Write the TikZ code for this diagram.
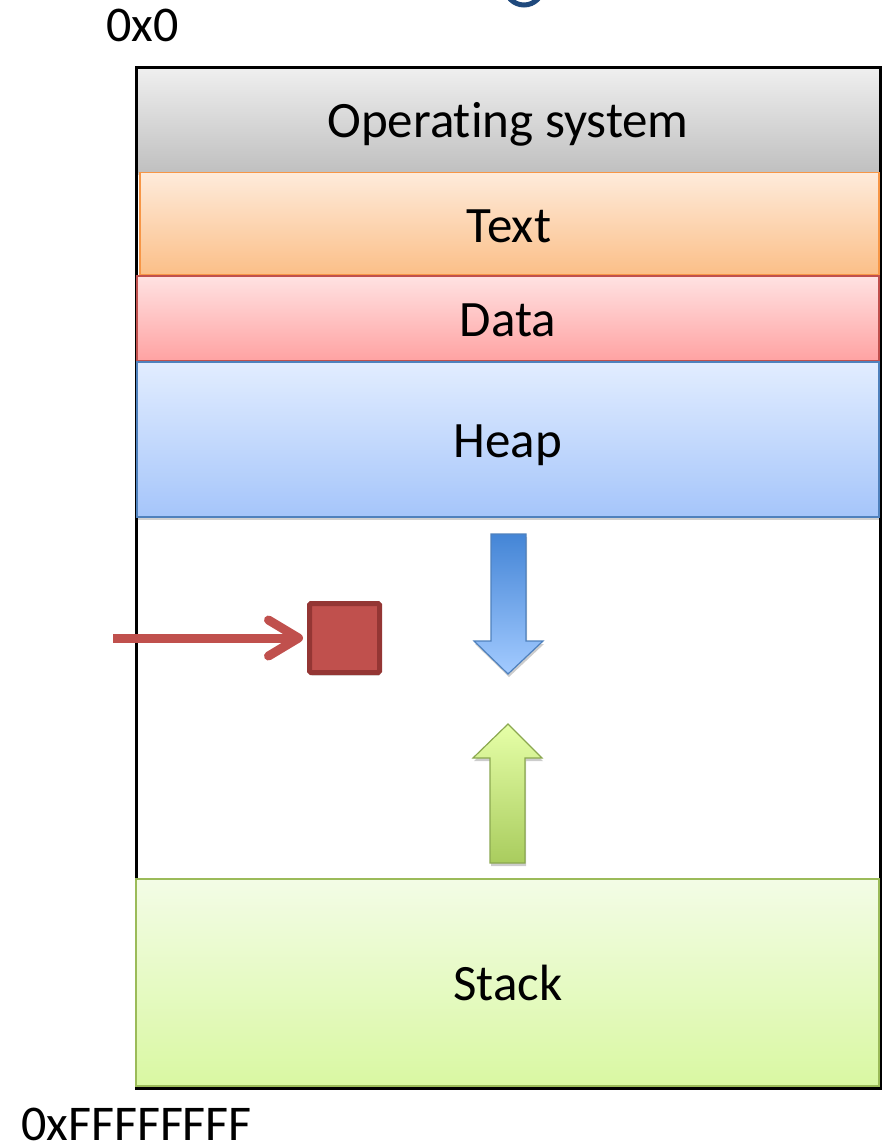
\documentclass[tikz,border=0pt]{standalone}
\usepackage{fontspec}
\setmainfont[Ligatures=NoCommon]{Carlito}
\usetikzlibrary{arrows.meta,shadows}

\definecolor{osTop}{HTML}{EFEFEF}
\definecolor{osBot}{HTML}{C0C0C0}
\definecolor{txTop}{HTML}{FEEBDB}
\definecolor{txBot}{HTML}{FBBF88}
\definecolor{txLine}{HTML}{F79646}
\definecolor{dtTop}{HTML}{FFE2E2}
\definecolor{dtBot}{HTML}{FFA2A2}
\definecolor{dtLine}{HTML}{C0504D}
\definecolor{hpTop}{HTML}{E2EDFF}
\definecolor{hpBot}{HTML}{A5C5FA}
\definecolor{hpLine}{HTML}{4F81BD}
\definecolor{skTop}{HTML}{F3FCE6}
\definecolor{skBot}{HTML}{D9F8A2}
\definecolor{skLine}{HTML}{9BBB59}
\definecolor{upTop}{HTML}{E6FFA8}
\definecolor{upBot}{HTML}{A9CC5E}
\definecolor{dnTop}{HTML}{4485D6}
\definecolor{dnBot}{HTML}{A3CBFF}
\definecolor{ptrRed}{HTML}{C0504D}
\definecolor{blkLine}{HTML}{943634}
\definecolor{titleBlue}{HTML}{1F497D}

\tikzset{
  seg/.style={rectangle, inner sep=0pt, outer sep=0pt, line width=1.5pt,
    drop shadow={shadow xshift=0pt, shadow yshift=-3pt, opacity=0.18, fill=black}},
  lbl/.style={inner sep=0pt, anchor=base, font=\fontsize{51}{60}\selectfont},
  addr/.style={inner sep=0pt, anchor=base west, font=\fontsize{50}{60}\selectfont},
  growarrow/.style={line width=1.2pt, line join=miter,
    drop shadow={shadow xshift=1pt, shadow yshift=-3pt, opacity=0.2, fill=black}},
}

\begin{document}
\begin{tikzpicture}[x=1pt,y=-1pt]
\useasboundingbox (0,0) rectangle (886,1145);

% bottom of the title glyph peeking in at the top edge
\begin{scope}
  \clip (0,0) rectangle (886,12);
  \draw[titleBlue, line width=5pt] (524,-14) ellipse [x radius=19, y radius=19];
\end{scope}

% address labels
\node[addr] (lo) at (106,42) {0x0};
\node[addr] (hi) at (21,1140) {0xFFFFFFFF};

% operating system band, then the address-space frame
\node[seg, minimum width=744pt, minimum height=104pt, top color=osTop, bottom color=osBot]
  (os) at (508,120) {};
\draw[line width=3pt] (136,68) rectangle (880,1088);

% program segments
\node[seg, draw=txLine, minimum width=739pt, minimum height=102pt, top color=txTop, bottom color=txBot]
  (text) at (509.5,223.5) {};
\node[seg, draw=dtLine, minimum width=742pt, minimum height=85pt, top color=dtTop, bottom color=dtBot]
  (data) at (508,318.5) {};
\node[seg, draw=hpLine, minimum width=742pt, minimum height=155pt, top color=hpTop, bottom color=hpBot]
  (heap) at (508,439.5) {};
\node[seg, draw=skLine, minimum width=743pt, minimum height=207pt, top color=skTop, bottom color=skBot]
  (stack) at (507.5,982.5) {};

% segment names
\node[lbl] (oslbl) at (508,138) {Operating system};
\node[lbl] (textlbl) at (509,242) {Text};
\node[lbl] (datalbl) at (508,336) {Data};
\node[lbl] (heaplbl) at (508,457) {Heap};
\node[lbl] (stacklbl) at (508,1000) {Stack};

% heap grows downward
\draw[growarrow, draw=hpLine, top color=dnTop, bottom color=dnBot]
  (491,534) -- (526,534) -- (526,641) -- (543,641) -- (508,674) -- (474,641) -- (491,641) -- cycle;

% stack grows upward
\draw[growarrow, draw=skLine!90!black, top color=upTop, bottom color=upBot]
  (508,724) -- (542,758) -- (525,758) -- (525,863) -- (490,863) -- (490,758) -- (473,758) -- cycle;

% allocated block and the pointer to it
\node[rectangle, inner sep=0pt, minimum width=70pt, minimum height=69pt, fill=ptrRed,
      draw=blkLine, line width=5pt, rounded corners=1.5pt,
      drop shadow={shadow xshift=1pt, shadow yshift=-3pt, opacity=0.18, fill=black}]
  (blk) at (344.5,638) {};
\coordinate (ptr) at (113,638);
\draw[ptrRed, line width=9pt,
      -{Straight Barb[length=30pt, width=36pt, line cap=round, line join=round]},
      shorten >=4pt]
  (ptr) -- (blk.west);
\end{tikzpicture}
\end{document}
